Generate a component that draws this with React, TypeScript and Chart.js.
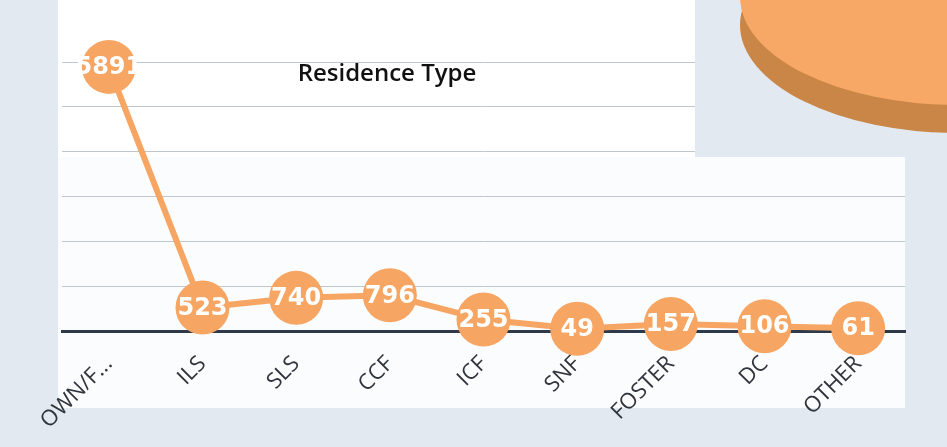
import React, { useEffect, useRef } from "react";
import { Chart, registerables } from "chart.js";

Chart.register(...registerables);

const categories = ["OWN/F...", "ILS", "SLS", "CCF", "ICF", "SNF", "FOSTER", "DC", "OTHER"];
const counts = [5891, 523, 740, 796, 255, 49, 157, 106, 61];
const yMin = 0;
const yMax = 6000;
const yStep = 1000;
const chartTitle = "Residence Type";

const ORANGE = "#F6A563";
const BLUISH = "#e3e9f1";

const backdropPlugin = {
  id: "backdrop",
  beforeDraw(chart: any) {
    const { ctx, width, height } = chart;
    ctx.save();
    ctx.fillStyle = BLUISH;
    ctx.fillRect(0, 0, width, height);
    ctx.fillStyle = "#fbfcfd";
    ctx.fillRect(58, 0, 847, 408);
    ctx.fillStyle = "#ffffff";
    ctx.fillRect(58, 0, 637, 157);
    ctx.restore();
  },
  beforeDatasetsDraw(chart: any) {
    const { ctx, width } = chart;
    ctx.save();
    ctx.fillStyle = BLUISH;
    ctx.fillRect(695, 0, width - 695, 157);
    // partial 3D pie from the neighbouring chart in the scan
    ctx.fillStyle = "#C98646";
    ctx.beginPath();
    ctx.ellipse(958, 25, 218, 108, 0, 0, Math.PI * 2);
    ctx.fill();
    ctx.fillStyle = "#F8A866";
    ctx.beginPath();
    ctx.ellipse(958, -3, 218, 108, 0, 0, Math.PI * 2);
    ctx.fill();
    ctx.restore();
  },
};

const overlayPlugin = {
  id: "overlay",
  afterDatasetsDraw(chart: any) {
    const { ctx, chartArea } = chart;
    ctx.save();
    const meta = chart.getDatasetMeta(0);
    ctx.fillStyle = "#ffffff";
    ctx.font = "bold 24px 'DejaVu Sans'";
    ctx.textAlign = "center";
    ctx.textBaseline = "middle";
    meta.data.forEach((pt: any, i: number) => {
      ctx.fillText(String(counts[i]), pt.x, pt.y + 1);
    });
    ctx.fillStyle = "#111111";
    ctx.font = "600 24px 'Open Sans'";
    ctx.fillText(chartTitle, chartArea.left + 325, 74);
    ctx.restore();
  },
};

export default function App() {
  const canvasRef = useRef<HTMLCanvasElement | null>(null);

  useEffect(() => {
    if (!canvasRef.current) return;
    const chart = new Chart(canvasRef.current, {
      type: "line",
      data: {
        labels: categories,
        datasets: [
          {
            data: counts,
            borderColor: ORANGE,
            backgroundColor: ORANGE,
            borderWidth: 6,
            pointRadius: 27,
            pointHoverRadius: 27,
            pointBackgroundColor: ORANGE,
            pointBorderWidth: 0,
            tension: 0,
            clip: false,
          } as any,
        ],
      },
      options: {
        animation: false,
        responsive: true,
        maintainAspectRatio: false,
        layout: { padding: { left: 62, right: 42, top: 62, bottom: 0 } },
        plugins: {
          legend: { display: false },
          title: { display: false },
          tooltip: { enabled: false },
        },
        scales: {
          x: {
            offset: true,
            grid: { display: false, drawTicks: false },
            border: { display: true, color: "#2e3a4a", width: 3 },
            ticks: {
              minRotation: 45,
              maxRotation: 45,
              padding: 20,
              color: "#30353d",
              font: { family: "'Open Sans'", size: 22 },
              autoSkip: false,
            },
            afterFit(scale: any) {
              scale.height = 116;
            },
          },
          y: {
            min: yMin,
            max: yMax,
            ticks: { display: false, stepSize: yStep },
            grid: { color: "#bfc6d0", lineWidth: 1, drawTicks: false },
            border: { display: false },
            afterFit(scale: any) {
              scale.width = 0;
            },
          },
        },
      },
      plugins: [backdropPlugin, overlayPlugin],
    });
    return () => chart.destroy();
  }, []);

  return (
    <div style={{ position: "fixed", left: 0, top: 0, width: 947, height: 447 }}>
      <canvas ref={canvasRef} />
    </div>
  );
}
